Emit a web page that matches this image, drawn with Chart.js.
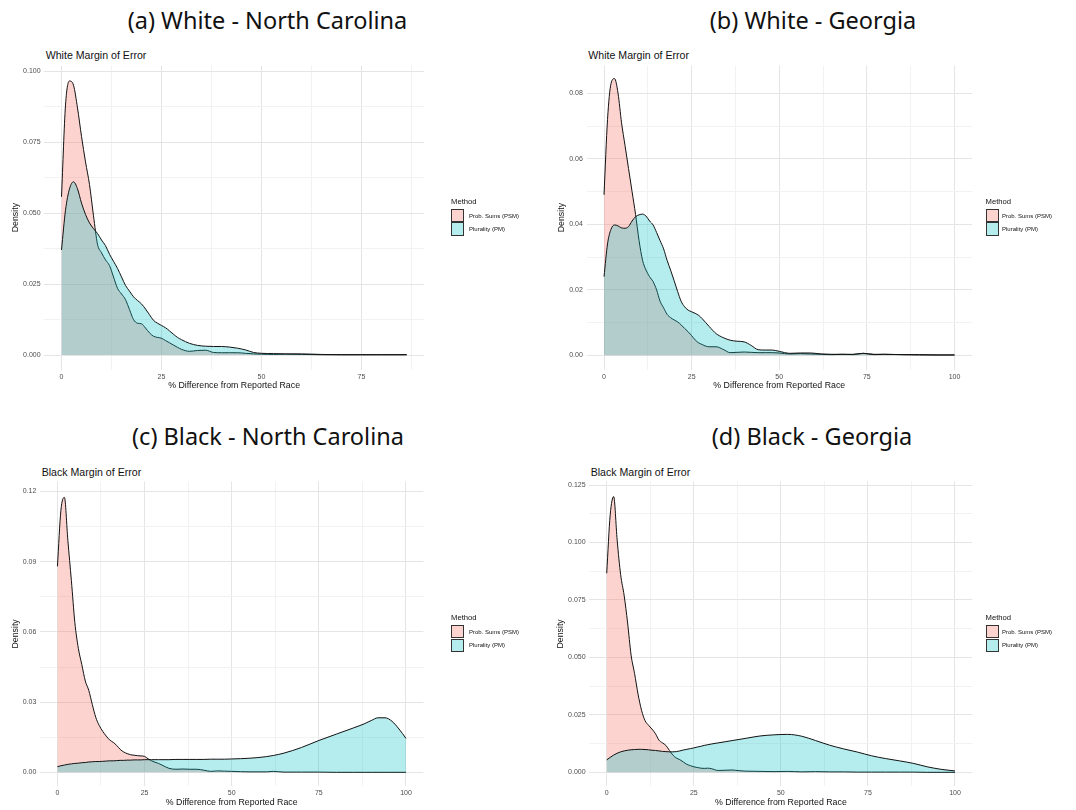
<!DOCTYPE html>
<html><head><meta charset="utf-8">
<script src="https://cdn.jsdelivr.net/npm/chart.js@4.4.0/dist/chart.umd.min.js"></script>
<style>
html,body{margin:0;padding:0;background:#fff;}
#wrap{position:relative;width:1076px;height:810px;overflow:hidden;background:#fff;}
.ptitle{position:absolute;font-family:"Noto Sans";font-size:23.5px;color:#111;white-space:nowrap;transform:translateX(-50%);line-height:1;}
.sub{position:absolute;font-family:"Liberation Sans";font-size:10.6px;color:#111;white-space:nowrap;line-height:1;}
canvas{position:absolute;}
.legt{position:absolute;font-family:"Liberation Sans";font-size:7.7px;color:#111;line-height:1;white-space:nowrap;}
.legb{position:absolute;width:11.3px;height:11.3px;border:1px solid #333;}
.legl{position:absolute;font-family:"Liberation Sans";font-size:6px;color:#111;line-height:1;white-space:nowrap;}
</style></head>
<body><div id="wrap">
<div class="ptitle" style="left:267.5px;top:9px">(a) White - North Carolina</div>
<div class="ptitle" style="left:813px;top:9px">(b) White - Georgia</div>
<div class="ptitle" style="left:268px;top:425px">(c) Black - North Carolina</div>
<div class="ptitle" style="left:812px;top:425px">(d) Black - Georgia</div>
<div class="sub" style="left:45.7px;top:49.8px">White Margin of Error</div>
<div class="sub" style="left:588.3px;top:49.8px">White Margin of Error</div>
<div class="sub" style="left:41.7px;top:466.5px">Black Margin of Error</div>
<div class="sub" style="left:590.7px;top:466.5px">Black Margin of Error</div>
<canvas id="ca" width="540" height="344" style="left:0;top:56px"></canvas>
<canvas id="cb" width="536" height="344" style="left:540px;top:56px"></canvas>
<canvas id="cc" width="540" height="340" style="left:0;top:470px"></canvas>
<canvas id="cd" width="536" height="340" style="left:540px;top:470px"></canvas>
<div id="legends"></div>
</div>
<script>
// ---------- DATA ----------
const methods = ["Prob. Sums (PSM)", "Plurality (PM)"];

// (a) White - North Carolina
const xA = [0,1,2,3,4,5,6,7,8,9,10,11,12,13,14,15,16,17,18,19,20,21,22,23,24,25,26,27,28,29,30,32,34,36,38,40,42,44,46,48,50,53,56,60,65,70,75,80,86.3];
const psmA = [0.0557,0.088,0.0965,0.095,0.087,0.077,0.068,0.060,0.049,0.039,0.036,0.0335,0.0315,0.0275,0.0235,0.0215,0.0195,0.0160,0.0125,0.0112,0.0110,0.0095,0.0078,0.0066,0.0062,0.0059,0.0051,0.0043,0.0035,0.0027,0.0020,0.0013,0.0016,0.0017,0.0009,0.0008,0.0008,0.0008,0.0006,0.0004,0.0003,0.0002,0.0003,0.0002,0.0001,0.0001,0.0001,0.0001,0.0001];
const pmA = [0.037,0.051,0.0585,0.061,0.0585,0.0535,0.0495,0.0465,0.0445,0.0428,0.0405,0.0385,0.0355,0.0330,0.0305,0.0275,0.0245,0.0225,0.0205,0.0192,0.0180,0.0162,0.0142,0.0122,0.0112,0.0104,0.0096,0.0085,0.0073,0.0062,0.0054,0.0041,0.0034,0.0031,0.0030,0.0030,0.0028,0.0024,0.0018,0.0009,0.0006,0.0005,0.0004,0.0004,0.0002,0.0001,0.0001,0.0001,0.0001];

// (b) White - Georgia
const xB = [0,1,2,3,4,5,6,7,8,9,10,11,12,13,14,15,16,17,18,19,20,21,22,23,24,25,26,27,28,29,30,32,34,36,38,40,42,44,46,48,50,53,56,59,62,65,68,71,74,77,80,85,90,95,100];
const psmB = [0.049,0.072,0.083,0.0845,0.080,0.071,0.064,0.057,0.050,0.043,0.035,0.029,0.026,0.024,0.0225,0.020,0.0165,0.0145,0.0125,0.0115,0.0108,0.0102,0.0093,0.0082,0.0072,0.0060,0.0047,0.0038,0.0033,0.0028,0.0026,0.0026,0.0018,0.0008,0.0009,0.0010,0.0009,0.0008,0.0008,0.0008,0.0007,0.0004,0.0005,0.0004,0.0003,0.0002,0.0003,0.0002,0.0006,0.0003,0.0003,0.0002,0.0002,0.0001,0.0001];
const pmB = [0.024,0.034,0.0385,0.0398,0.0395,0.0389,0.0388,0.0393,0.0410,0.0423,0.0429,0.0431,0.0425,0.0410,0.0398,0.0375,0.0350,0.0325,0.0290,0.0260,0.0228,0.0195,0.0165,0.0148,0.0138,0.0133,0.0128,0.0122,0.0112,0.0100,0.0088,0.0066,0.0054,0.0046,0.0043,0.0041,0.0030,0.0017,0.0016,0.0016,0.0012,0.0006,0.0007,0.0007,0.0004,0.0003,0.0003,0.0003,0.0006,0.0002,0.0003,0.0002,0.0001,0.0001,0.0001];

// (c) Black - North Carolina
const xC = [0,1,2,3,4,5,6,7,8,9,10,11,12,13,14,15,16,17,18,19,20,21,22,23,24,25,26,27,28,29,30,32,34,36,38,40,42,44,46,48,50,55,60,62,65,70,75,80,85,88,90,92,94,96,98,100];
const psmC = [0.088,0.112,0.1175,0.099,0.082,0.064,0.053,0.046,0.039,0.035,0.029,0.0235,0.0200,0.0175,0.0155,0.0138,0.0128,0.0115,0.0098,0.0087,0.0080,0.0075,0.0073,0.0071,0.0070,0.0068,0.0058,0.0049,0.0043,0.0038,0.0031,0.0017,0.0013,0.0014,0.0013,0.0013,0.0009,0.0004,0.0006,0.0005,0.0004,0.0002,0.0002,0.0004,0.0001,0.0001,0.0001,0,0,0,0,0,0,0,0,0];
const pmC = [0.0024,0.0028,0.0031,0.0034,0.0036,0.0038,0.0039,0.0041,0.0042,0.0044,0.0045,0.0046,0.0046,0.0047,0.0048,0.0049,0.0049,0.0050,0.0051,0.0051,0.0052,0.0052,0.0053,0.0053,0.0053,0.0054,0.0054,0.0054,0.0054,0.0054,0.0054,0.0054,0.0055,0.0055,0.0055,0.0055,0.0055,0.0056,0.0056,0.0056,0.0057,0.0060,0.0067,0.0072,0.0082,0.0106,0.0136,0.0163,0.0190,0.0207,0.0221,0.0233,0.0233,0.0218,0.0185,0.0145];

// (d) Black - Georgia
const xD = [0,1,2,3,4,5,6,7,8,9,10,11,12,13,14,15,16,17,18,19,20,21,22,23,24,25,26,27,28,29,30,32,34,36,38,40,44,48,52,56,60,64,68,72,76,80,84,88,92,96,100];
const psmD = [0.0866,0.112,0.120,0.101,0.086,0.077,0.065,0.051,0.043,0.034,0.027,0.0225,0.0205,0.0188,0.0168,0.0140,0.0128,0.0117,0.0095,0.0075,0.0062,0.0055,0.0045,0.0035,0.0029,0.0024,0.0021,0.0018,0.0017,0.0018,0.0016,0.0008,0.0009,0.0010,0.0007,0.0005,0.0004,0.0003,0.0004,0.0002,0.0003,0.0002,0.0002,0.0001,0.0001,0.0001,0.0001,0.0001,0,0,0];
const pmD = [0.0054,0.0065,0.0075,0.0083,0.0089,0.0093,0.0096,0.0098,0.0099,0.0100,0.0100,0.0099,0.0098,0.0096,0.0095,0.0093,0.0091,0.0090,0.0089,0.0089,0.0090,0.0093,0.0097,0.0100,0.0103,0.0106,0.0110,0.0113,0.0117,0.0120,0.0123,0.0128,0.0133,0.0138,0.0143,0.0148,0.0158,0.0163,0.0165,0.0157,0.0138,0.0118,0.0102,0.0088,0.0072,0.0060,0.0050,0.0039,0.0024,0.0013,0.0006];

// tick values
const xTicks100 = [0,12.5,25,37.5,50,62.5,75,87.5,100];
const xTicksA = [0,12.5,25,37.5,50,62.5,75,87.5];
const xMajor = [0,25,50,75,100];
const yTicksA = [0,0.0125,0.025,0.0375,0.05,0.0625,0.075,0.0875,0.1];
const yMajorA = [0,0.025,0.05,0.075,0.1];
const yTicksB = [0,0.01,0.02,0.03,0.04,0.05,0.06,0.07,0.08];
const yMajorB = [0,0.02,0.04,0.06,0.08];
const yTicksC = [0,0.015,0.03,0.045,0.06,0.075,0.09,0.105,0.12];
const yMajorC = [0,0.03,0.06,0.09,0.12];
const yTicksD = [0,0.0125,0.025,0.0375,0.05,0.0625,0.075,0.0875,0.1,0.1125,0.125];
const yMajorD = [0,0.025,0.05,0.075,0.1,0.125];

// ---------- STYLE ----------
const PINK = 'rgba(248,118,109,0.32)';
const TEAL = 'rgba(0,191,196,0.29)';
const GRID_MAJOR = '#E5E5E5';
const GRID_MINOR = '#F2F2F2';
const FONT = 'Liberation Sans';

function isIn(v, arr){ return arr.some(a => Math.abs(a - v) < 1e-9); }

function makeChart(id, xs, psm, pm, o) {
  new Chart(document.getElementById(id), {
    type: 'line',
    data: { datasets: [
      { label: methods[0], data: xs.map((x,i)=>({x:x, y:psm[i]})), fill:'origin',
        backgroundColor: PINK, borderColor:'#111', borderWidth:1, pointRadius:0,
        cubicInterpolationMode:'monotone', order:2 },
      { label: methods[1], data: xs.map((x,i)=>({x:x, y:pm[i]})), fill:'origin',
        backgroundColor: TEAL, borderColor:'#111', borderWidth:1, pointRadius:0,
        cubicInterpolationMode:'monotone', order:1 }
    ]},
    options: {
      responsive:false, animation:false, devicePixelRatio:1,
      layout:{ padding:{ left:0, right:o.padR, top:o.padT, bottom:0 } },
      plugins:{ legend:{display:false}, tooltip:{enabled:false}, title:{display:false} },
      scales:{
        x:{ type:'linear', min:o.xmin, max:o.xmax,
            afterBuildTicks: s => { s.ticks = o.xTicks.map(v=>({value:v})); },
            afterFit: s => { s.height = o.xH; },
            ticks:{ autoSkip:false, maxRotation:0, padding:o.xTickPad, color:'#4D4D4D',
                    font:{family:FONT, size:7},
                    callback: v => isIn(v, xMajor) ? String(v) : '' },
            grid:{ drawTicks:false, lineWidth:1,
                   color: c => (c.tick && isIn(c.tick.value, xMajor)) ? GRID_MAJOR : GRID_MINOR },
            border:{ display:false },
            title:{ display:true, text:'% Difference from Reported Race', color:'#111',
                    font:{family:FONT, size:8.8}, padding:{top:0, bottom:o.xTitlePad} } },
        y:{ type:'linear', min:o.ymin, max:o.ymax,
            afterBuildTicks: s => { s.ticks = o.yTicks.map(v=>({value:v})); },
            afterFit: s => { s.width = o.yW; },
            ticks:{ autoSkip:false, padding:3.7, color:'#4D4D4D', font:{family:FONT, size:7},
                    callback: v => isIn(v, o.yMajor) ? v.toFixed(o.dec) : '' },
            grid:{ drawTicks:false, lineWidth:1,
                   color: c => (c.tick && isIn(c.tick.value, o.yMajor)) ? GRID_MAJOR : GRID_MINOR },
            border:{ display:false },
            title:{ display:true, text:'Density', color:'#111',
                    font:{family:FONT, size:8.8}, padding:{top:o.yTitlePad, bottom:0} } }
      }
    }
  });
}

makeChart('ca', xA, psmA, pmA, { padR:116.1, padT:9.7, xH:30.5, yW:44.3,
  xmin:-4.3, xmax:90.6, ymin:-0.0051, ymax:0.10187, xTicks:xTicksA, yTicks:yTicksA, yMajor:yMajorA, dec:3,
  xTickPad:3.0, xTitlePad:9.4, yTitlePad:10.4 });
makeChart('cb', xB, psmB, pmB, { padR:104, padT:9.7, xH:30.5, yW:46.5,
  xmin:-5, xmax:105, ymin:-0.00434, ymax:0.08843, xTicks:xTicks100, yTicks:yTicksB, yMajor:yMajorB, dec:2,
  xTickPad:3.0, xTitlePad:9.0, yTitlePad:16.4 });
makeChart('cc', xC, psmC, pmC, { padR:116.6, padT:11.5, xH:23.7, yW:40,
  xmin:-5, xmax:105, ymin:-0.00598, ymax:0.12427, xTicks:xTicks100, yTicks:yTicksC, yMajor:yMajorC, dec:2,
  xTickPad:2.8, xTitlePad:2.0, yTitlePad:10.4 });
makeChart('cd', xD, psmD, pmD, { padR:103.6, padT:11.5, xH:23.7, yW:49.3,
  xmin:-5, xmax:105, ymin:-0.00609, ymax:0.12654, xTicks:xTicks100, yTicks:yTicksD, yMajor:yMajorD, dec:3,
  xTickPad:2.8, xTitlePad:2.0, yTitlePad:15.4 });

// ---------- LEGENDS ----------
function legend(left, labelLeft, top) {
  const L = document.getElementById('legends');
  const t = document.createElement('div');
  t.className = 'legt'; t.textContent = 'Method';
  t.style.left = left + 'px'; t.style.top = (top - 4) + 'px';
  L.appendChild(t);
  [PINK, TEAL].forEach((col, i) => {
    const b = document.createElement('div');
    b.className = 'legb'; b.style.background = col;
    b.style.left = left + 'px'; b.style.top = (top + 7.3 + i*13.3) + 'px';
    L.appendChild(b);
    const l = document.createElement('div');
    l.className = 'legl'; l.textContent = methods[i];
    l.style.left = labelLeft + 'px'; l.style.top = (top + 7.3 + i*13.3 + 3.7) + 'px';
    L.appendChild(l);
  });
}
legend(451, 469, 201.7);
legend(985.5, 1002, 201.7);
legend(451, 469, 617.9);
legend(985.5, 1002, 617.9);
</script>
</body></html>
